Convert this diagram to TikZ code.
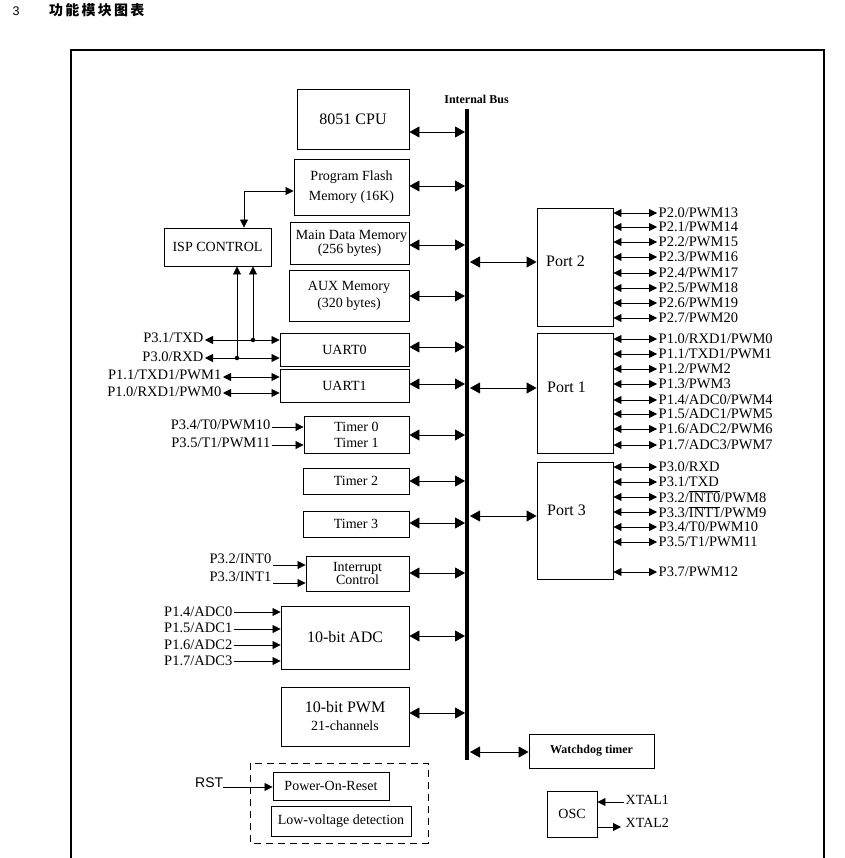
\documentclass[tikz,border=0pt]{standalone}
\usepackage{fontspec}
\setmainfont{Liberation Serif}
\newfontfamily\cjk[LetterSpace=16]{Noto Sans CJK SC}
\newfontfamily\arialf{Liberation Sans}
\usetikzlibrary{arrows.meta}
\newcommand\fs[2]{\fontsize{#1}{#2}\selectfont}
\newcommand\ovl[1]{$\overline{\hbox{#1}}$}
\begin{document}
\begin{tikzpicture}[x=1pt,y=-1pt,
  box/.style={draw, line width=0.9pt, inner sep=0pt, align=center, font=\fs{14}{17}},
  bb/.style={{Triangle[length=10pt,width=11pt]}-{Triangle[length=10pt,width=11pt]}, line width=0.9pt},
  pb/.style={{Triangle[length=8pt,width=8pt]}-{Triangle[length=8pt,width=8pt]}, line width=0.8pt},
  pa/.style={-{Triangle[length=8pt,width=8pt]}, line width=0.8pt},
  pin/.style={font=\fs{14.5}{16}, inner sep=1.5pt},
  dot/.style={circle, fill, inner sep=0pt, minimum size=4.5pt},
]
\useasboundingbox (0,0) rectangle (844,858);
\newcommand\blk[7][]{\node[box,#1, minimum width={#4-#2}, minimum height={#5-#3}] (#6) at ({(#2+#4)/2},{(#3+#5)/2}) {#7};}
\newcommand\pinR[4]{\node[pin,anchor=west] (#1) at (657,#3) {#4}; \draw[pb] (#2.east |- #1.west) -- (#1.west);}
\newcommand\pinIn[4]{\node[pin,anchor=east] (#1) at ({#3},#4) {#2};}

% title
\node[anchor=west, inner sep=0pt, font=\arialf\fs{12.5}{14}] (num) at (12.5,11) {3};
\node[anchor=west, inner sep=0pt, font=\cjk\bfseries\fs{14}{16}] (title) at (49,10.5) {功能模块图表};

% frame
\draw[line width=1.1pt] (71,858) coordinate (fbl) -- (71,50) coordinate (ftl) -- (824,50) coordinate (ftr) -- (824,858) coordinate (fbr);

% bus
\coordinate (busT) at (467,109);
\coordinate (busB) at (467,760);
\coordinate (busL) at (465,0);
\coordinate (busR) at (470,0);
\draw[line width=3.6pt] (busT) -- (busB);
\node[font=\bfseries\fs{12}{14}, inner sep=0pt] (buslbl) at (476.5,99) {Internal Bus};

% left blocks
\blk[font=\fs{16}{18}]{297}{89}{409}{149}{cpu}{8051 CPU}
\blk[font=\fs{14}{20}]{294}{159}{409}{215}{flash}{Program Flash\\Memory (16K)}
\blk[font=\fs{14}{14}]{290}{222}{409}{264}{mdm}{\hspace*{4pt}Main Data Memory\\(256 bytes)}
\blk[font=\fs{14}{17}]{289}{270}{409}{321}{aux}{AUX Memory\\(320 bytes)}
\blk{164}{228}{271}{266}{isp}{ISP CONTROL}
\blk{280}{333}{409}{366}{u0}{UART0}
\blk{280}{369}{409}{402}{u1}{UART1}
\blk[font=\fs{14}{16}]{304}{416}{409}{453}{t01}{Timer 0\\Timer 1}
\blk{303}{468}{409}{494}{t2}{Timer 2}
\blk{303}{511}{409}{537}{t3}{Timer 3}
\blk[font=\fs{14}{13}]{306}{556}{409}{591}{intc}{Interrupt\\Control}
\blk[font=\fs{16}{18}]{281}{606}{409}{669}{adc}{10-bit ADC}
\blk[font=\fs{16}{18}]{281}{687}{409}{746}{pwm}{10-bit PWM\\{\fs{14}{14}21-channels}}

% bus arrows (left)
\draw[bb] (cpu.east |- 0,132) -- (busL |- 0,132);
\draw[bb] (flash.east |- 0,186) -- (busL |- 0,186);
\draw[bb] (mdm.east |- 0,245) -- (busL |- 0,245);
\draw[bb] (aux.east |- 0,296) -- (busL |- 0,296);
\draw[bb] (u0.east |- 0,347) -- (busL |- 0,347);
\draw[bb] (u1.east |- 0,384) -- (busL |- 0,384);
\draw[bb] (t01.east |- 0,435) -- (busL |- 0,435);
\draw[bb] (t2.east |- 0,481) -- (busL |- 0,481);
\draw[bb] (t3.east |- 0,523) -- (busL |- 0,523);
\draw[bb] (intc.east |- 0,573) -- (busL |- 0,573);
\draw[bb] (adc.east |- 0,636) -- (busL |- 0,636);
\draw[bb] (pwm.east |- 0,713) -- (busL |- 0,713);

% ISP connections
\coordinate (ispc) at (244,191);
\draw[pb] (isp.north -| ispc) -- (ispc) -- (flash.west |- ispc);
\coordinate (d1) at (253,340);
\coordinate (d2) at (237,358);
\draw[pa] (d1) -- (d1 |- isp.south);
\draw[pa] (d2) -- (d2 |- isp.south);

% UART pins
\pinIn{t31}{P3.1/TXD}{205}{338}
\pinIn{t30}{P3.0/RXD}{205}{357}
\pinIn{t11}{P1.1/TXD1/PWM1}{223}{375}
\pinIn{t10}{P1.0/RXD1/PWM0}{223}{392}
\draw[pb] (t31.east |- d1) -- (u0.west |- d1);
\draw[pb] (t30.east |- d2) -- (u0.west |- d2);
\draw[pb] (t11.east |- 0,377) -- (u1.west |- 0,377);
\draw[pb] (t10.east |- 0,393) -- (u1.west |- 0,393);
\node[dot] (dot1) at (d1) {};
\node[dot] (dot2) at (d2) {};

% timer pins
\pinIn{t34}{P3.4/T0/PWM10}{272}{425}
\pinIn{t35}{P3.5/T1/PWM11}{272}{443}
\draw[pa] (t34.east |- 0,427) -- (t01.west |- 0,427);
\draw[pa] (t35.east |- 0,445) -- (t01.west |- 0,445);

% interrupt pins
\pinIn{i32}{P3.2/INT0}{273}{559}
\pinIn{i33}{P3.3/INT1}{273}{577}
\draw[pa] (i32.east |- 0,565) -- (intc.west |- 0,565);
\draw[pa] (i33.east |- 0,583) -- (intc.west |- 0,583);

% ADC pins
\pinIn{a0}{P1.4/ADC0}{234}{612}
\pinIn{a1}{P1.5/ADC1}{234}{628}
\pinIn{a2}{P1.6/ADC2}{234}{645}
\pinIn{a3}{P1.7/ADC3}{234}{661}
\draw[pa] (a0.east |- 0,612) -- (adc.west |- 0,612);
\draw[pa] (a1.east |- 0,629) -- (adc.west |- 0,629);
\draw[pa] (a2.east |- 0,645) -- (adc.west |- 0,645);
\draw[pa] (a3.east |- 0,661) -- (adc.west |- 0,661);

% reset block
\draw[dashed, dash pattern=on 7pt off 5pt, line width=0.9pt] (250,763) rectangle (428,843);
\blk{273}{772}{389}{800}{por}{Power-On-Reset}
\blk{271}{806}{411}{836}{lvd}{Low-voltage detection}
\node[font=\arialf\fs{14}{16}, inner sep=0pt, anchor=west] (rst) at (195,783) {RST};
\draw[pa] (rst.east |- 0,787) -- (por.west |- 0,787);

% ports
\blk{537}{208}{613}{326}{p2}{}
\blk{537}{333}{613}{453}{p1}{}
\blk{537}{462}{613}{579}{p3}{}
\node[font=\fs{16}{18}, anchor=west, inner sep=0pt] (p2t) at (546,261) {Port 2};
\node[font=\fs{16}{18}, anchor=west, inner sep=0pt] (p1t) at (547,387) {Port 1};
\node[font=\fs{16}{18}, anchor=west, inner sep=0pt] (p3t) at (547,510) {Port 3};
\draw[bb] (busR |- 0,262) -- (p2.west |- 0,262);
\draw[bb] (busR |- 0,388) -- (p1.west |- 0,388);
\draw[bb] (busR |- 0,516) -- (p3.west |- 0,516);

\pinR{q20}{p2}{213}{P2.0/PWM13}
\pinR{q21}{p2}{227}{P2.1/PWM14}
\pinR{q22}{p2}{242}{P2.2/PWM15}
\pinR{q23}{p2}{257}{P2.3/PWM16}
\pinR{q24}{p2}{273}{P2.4/PWM17}
\pinR{q25}{p2}{288}{P2.5/PWM18}
\pinR{q26}{p2}{303}{P2.6/PWM19}
\pinR{q27}{p2}{318}{P2.7/PWM20}

\pinR{q10}{p1}{339}{P1.0/RXD1/PWM0}
\pinR{q11}{p1}{354}{P1.1/TXD1/PWM1}
\pinR{q12}{p1}{369}{P1.2/PWM2}
\pinR{q13}{p1}{384}{P1.3/PWM3}
\pinR{q14}{p1}{400}{P1.4/ADC0/PWM4}
\pinR{q15}{p1}{414}{P1.5/ADC1/PWM5}
\pinR{q16}{p1}{429}{P1.6/ADC2/PWM6}
\pinR{q17}{p1}{445}{P1.7/ADC3/PWM7}

\pinR{q30}{p3}{467}{P3.0/RXD}
\pinR{q31}{p3}{482}{P3.1/TXD}
\pinR{q32}{p3}{497}{P3.2/\ovl{INT0}/PWM8}
\pinR{q33}{p3}{512}{P3.3/\ovl{INT1}/PWM9}
\pinR{q34}{p3}{527}{P3.4/T0/PWM10}
\pinR{q35}{p3}{542}{P3.5/T1/PWM11}
\pinR{q37}{p3}{572}{P3.7/PWM12}

% watchdog
\blk[font=\bfseries\fs{12}{14}]{529}{734}{654}{768}{wdt}{Watchdog timer}
\draw[bb] (busR |- 0,752) -- (wdt.west |- 0,752);

% OSC
\blk{547}{791}{597}{837}{osc}{OSC}
\node[pin, anchor=west, font=\fs{14}{16}] (x1) at (624,800) {XTAL1};
\node[pin, anchor=west, font=\fs{14}{16}] (x2) at (624,823) {XTAL2};
\draw[pa] (x1.west |- 0,802) -- (osc.east |- 0,802);
\draw[pa] (osc.east |- 0,827) -- ([xshift=-3pt]x2.west |- 0,827);
\end{tikzpicture}
\end{document}
